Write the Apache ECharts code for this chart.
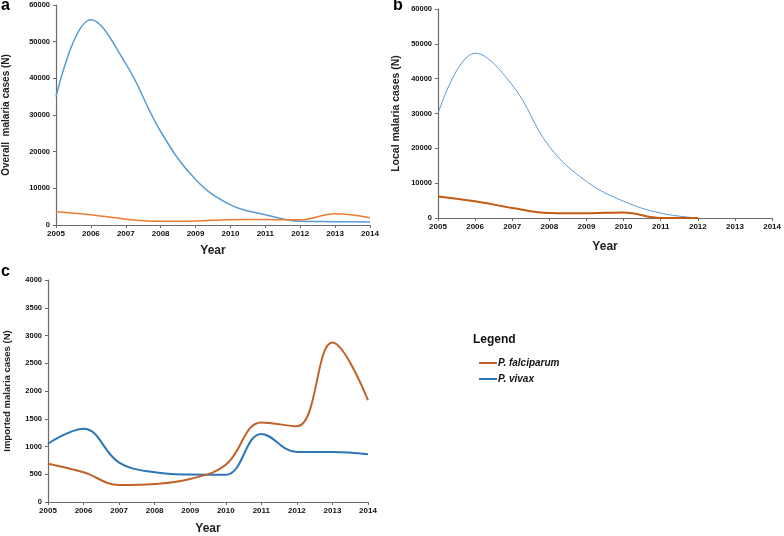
<!DOCTYPE html>
<html>
<head>
<meta charset="utf-8">
<script src="https://cdn.jsdelivr.net/npm/echarts@6/dist/echarts.min.js"></script>
<style>
html,body{margin:0;padding:0;background:#fff;}
#g_canvas{width:784px;height:536px;}
</style>
</head>
<body>
<div id="g_canvas"></div>
<script>
// years on every x axis
var years = ['2005', '2006', '2007', '2008', '2009', '2010', '2011', '2012', '2013', '2014'];

// a - overall cases
var overall_vivax = [35000, 56000, 44000, 25500, 12400, 5500, 2800, 1000, 900, 800];
var overall_falci = [3600, 2800, 1600, 1000, 1100, 1450, 1500, 1400, 3100, 2000];

// b - local cases (lines stop at 2012)
var local_vivax = [30000, 47300, 38200, 20500, 10500, 4800, 1400, 0, null, null];
var local_falci = [6200, 4800, 2900, 1450, 1350, 1600, 0, 0, null, null];

// c - imported cases
var imported_vivax = [1050, 1320, 710, 535, 495, 490, 1227, 900, 900, 860];
var imported_falci = [690, 535, 308, 326, 415, 670, 1434, 1363, 2874, 1837];

var legend_names = ['P. falciparum', 'P. vivax'];

var axis_color = '#6b6b6b';

function makeX(idx, gap) {
	return {
		type: 'category',
		gridIndex: idx,
		data: years,
		boundaryGap: false,
		name: 'Year',
		nameLocation: 'middle',
		nameGap: gap,
		nameTextStyle: {fontFamily: 'Liberation Sans', fontWeight: 'bold', fontSize: 12, color: '#222'},
		axisLine: {show: true, lineStyle: {color: axis_color, width: 1.2}},
		axisTick: {show: true, alignWithLabel: true, length: 3, lineStyle: {color: axis_color}},
		axisLabel: {fontFamily: 'Liberation Sans', fontWeight: 'bold', fontSize: 8, color: '#111', margin: 5, interval: 0},
		splitLine: {show: false}
	};
}

function makeY(idx, name, max, step, gap, size) {
	return {
		type: 'value',
		gridIndex: idx,
		min: 0,
		max: max,
		interval: step,
		name: name,
		nameLocation: 'middle',
		nameGap: gap,
		nameTextStyle: {fontFamily: 'Liberation Sans', fontWeight: 'bold', fontSize: size, color: '#222'},
		axisLine: {show: true, lineStyle: {color: axis_color, width: 1.2}},
		axisTick: {show: true, length: 3, lineStyle: {color: axis_color}},
		axisLabel: {
			fontFamily: 'Liberation Sans', fontWeight: 'bold', fontSize: 7.5, color: '#111', margin: 6,
			formatter: function(v){ return String(v); }
		},
		splitLine: {show: false}
	};
}

function makeLine(name, idx, data, color, width) {
	return {
		name: name,
		type: 'line',
		xAxisIndex: idx,
		yAxisIndex: idx,
		data: data,
		smooth: 0.4,
		symbol: 'none',
		connectNulls: false,
		lineStyle: {color: color, width: width},
		itemStyle: {color: color}
	};
}

option = {
	backgroundColor: '#fff',
	animation: false,
	grid: [
		{left: 51, top: 5, width: 319, height: 220},
		{left: 438, top: 9, width: 335, height: 209},
		{left: 48, top: 280, width: 320, height: 225}
	],
	xAxis: [makeX(0, 20), makeX(1, 23), makeX(2, 21)],
	yAxis: [
		makeY(0, 'Overall  malaria cases (N)', 60000, 10000, 45, 10),
		makeY(1, 'Local malaria cases (N)', 60000, 10000, 36, 10.5),
		makeY(2, 'Imported malaria cases (N)', 4000, 500, 36, 9.5)
	],
	legend: {
		orient: 'vertical',
		left: 474,
		top: 353,
		itemWidth: 18,
		itemHeight: 2,
		itemGap: 6,
		icon: 'rect',
		textStyle: {fontFamily: 'Liberation Sans', fontStyle: 'italic', fontWeight: 'bold', fontSize: 10, color: '#111', padding: [0, 0, 0, -4]},
		data: [
			{name: legend_names[0], itemStyle: {color: '#c0622a'}},
			{name: legend_names[1], itemStyle: {color: '#2e75b6'}}
		]
	},
	graphic: [
		{type: 'text', left: 1, top: -2, style: {text: 'a', font: 'bold 16px Liberation Sans', fill: '#000'}},
		{type: 'text', left: 393, top: -2, style: {text: 'b', font: 'bold 16px Liberation Sans', fill: '#000'}},
		{type: 'text', left: 1, top: 264, style: {text: 'c', font: 'bold 16px Liberation Sans', fill: '#000'}},
		{type: 'text', left: 473, top: 334, style: {text: 'Legend', font: 'bold 12px Liberation Sans', fill: '#111'}}
	],
	series: [
		makeLine(legend_names[1], 0, overall_vivax, '#5b9bd5', 1.5),
		makeLine(legend_names[0], 0, overall_falci, '#ed7d31', 1.5),
		makeLine(legend_names[1], 1, local_vivax, '#5b9bd5', 1),
		makeLine(legend_names[0], 1, local_falci, '#c55a11', 2),
		makeLine(legend_names[1], 2, imported_vivax, '#2e75b6', 2),
		makeLine(legend_names[0], 2, imported_falci, '#c0622a', 2)
	]
};
var myChart = echarts.init(document.getElementById('g_canvas'));
myChart.setOption(option);
</script>
</body>
</html>
